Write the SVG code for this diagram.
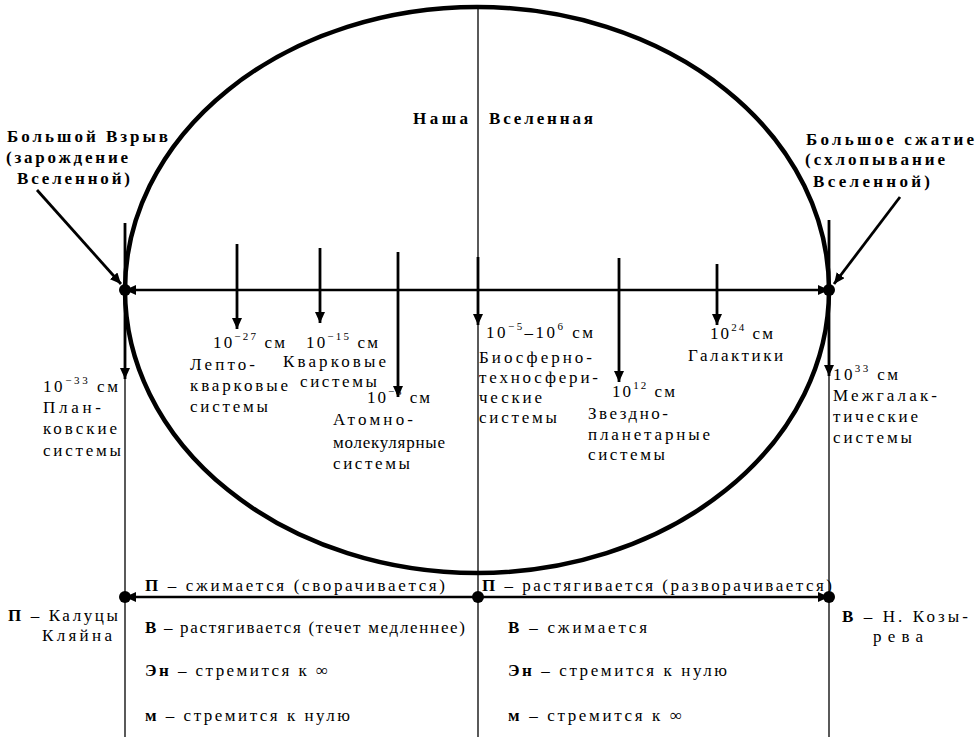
<svg xmlns="http://www.w3.org/2000/svg" width="976" height="737" viewBox="0 0 976 737" font-family="'Liberation Serif', 'Times New Roman', serif">
<style>
text{font-family:"Liberation Serif","Times New Roman",serif;fill:#000;}
.b{font-weight:bold;font-size:17px;}
.n{font-size:17px;}
.num{font-size:17px;}
.sup{font-size:11px;}
.thin{stroke:#000;stroke-width:1.3;fill:none;}
.thick{stroke:#000;stroke-width:2.8;fill:none;}
.ax{stroke:#000;stroke-width:2.5;fill:none;}
.dot{fill:#000;}
</style>
<defs>
<marker id="ah" markerUnits="userSpaceOnUse" markerWidth="11" markerHeight="10" refX="11" refY="5" orient="auto-start-reverse">
<path d="M0,0 L11,5 L0,10 z" fill="#000"/>
</marker>
</defs>
<rect width="976" height="737" fill="#fff"/>
<ellipse id="universe" cx="477" cy="290" rx="352" ry="283" fill="none" stroke="#000" stroke-width="4.5"/>
<g id="connectors">
<line class="thin" x1="478" y1="7" x2="478" y2="737"/>
<line class="thin" x1="125" y1="378" x2="125" y2="737"/>
<line class="thin" x1="829" y1="375" x2="829" y2="737"/>
<line class="thick" x1="125" y1="223" x2="125" y2="379" marker-end="url(#ah)"/>
<line class="thick" x1="829" y1="220" x2="829" y2="376" marker-end="url(#ah)"/>
<line class="ax" x1="125" y1="290" x2="829" y2="290" marker-start="url(#ah)" marker-end="url(#ah)"/>
<line class="thick" x1="237" y1="244" x2="237" y2="329" marker-end="url(#ah)"/>
<line class="thick" x1="320" y1="248" x2="320" y2="323" marker-end="url(#ah)"/>
<line class="thick" x1="398" y1="252" x2="398" y2="397" marker-end="url(#ah)"/>
<line class="thick" x1="478" y1="257" x2="478" y2="325" marker-end="url(#ah)"/>
<line class="thick" x1="619" y1="258" x2="619" y2="382" marker-end="url(#ah)"/>
<line class="thick" x1="717" y1="264" x2="717" y2="325" marker-end="url(#ah)"/>
<line class="thick" x1="37" y1="190" x2="121" y2="284" stroke-width="2" marker-end="url(#ah)"/>
<line class="thick" x1="900" y1="197" x2="834" y2="284" stroke-width="2" marker-end="url(#ah)"/>
<line class="ax" x1="478" y1="597" x2="125" y2="597" marker-end="url(#ah)"/>
<line class="ax" x1="478" y1="597" x2="829" y2="597" marker-end="url(#ah)"/>
<circle class="dot" cx="125" cy="290" r="6"/>
<circle class="dot" cx="829" cy="290" r="6"/>
<circle class="dot" cx="125" cy="597" r="6"/>
<circle class="dot" cx="478" cy="597" r="6"/>
<circle class="dot" cx="829" cy="597" r="6"/>
</g>
<g id="title">
<text class="b" x="413" y="124" textLength="55" lengthAdjust="spacing">Наша</text>
<text class="b" x="489" y="124" textLength="104" lengthAdjust="spacing">Вселенная</text>
</g>
<g id="big-bang">
<text class="b" x="7" y="142" textLength="161" lengthAdjust="spacing">Большой Взрыв</text>
<text class="b" x="6" y="163" textLength="122" lengthAdjust="spacing">(зарождение</text>
<text class="b" x="17" y="184" textLength="113" lengthAdjust="spacing">Вселенной)</text>
</g>
<g id="big-crunch">
<text class="b" x="806" y="145" textLength="168" lengthAdjust="spacing">Большое сжатие</text>
<text class="b" x="805" y="165" textLength="140" lengthAdjust="spacing">(схлопывание</text>
<text class="b" x="813" y="187" textLength="117" lengthAdjust="spacing">Вселенной)</text>
</g>
<g id="planck">
<text class="num" x="43" y="392" textLength="75" lengthAdjust="spacing">10<tspan class="sup" dy="-8">−33</tspan><tspan dy="8"> см</tspan></text>
<text class="n" x="43" y="413" textLength="58" lengthAdjust="spacing">План-</text>
<text class="n" x="43" y="434" textLength="74" lengthAdjust="spacing">ковские</text>
<text class="n" x="43" y="456" textLength="78" lengthAdjust="spacing">системы</text>
</g>
<g id="lepto">
<text class="num" x="213" y="348" textLength="72" lengthAdjust="spacing">10<tspan class="sup" dy="-8">−27</tspan><tspan dy="8"> см</tspan></text>
<text class="n" x="190" y="370" textLength="65" lengthAdjust="spacing">Лепто-</text>
<text class="n" x="190" y="391" textLength="98" lengthAdjust="spacing">кварковые</text>
<text class="n" x="190" y="412" textLength="78" lengthAdjust="spacing">системы</text>
</g>
<g id="quark">
<text class="num" x="306" y="348" textLength="72" lengthAdjust="spacing">10<tspan class="sup" dy="-8">−15</tspan><tspan dy="8"> см</tspan></text>
<text class="n" x="283" y="367" textLength="103" lengthAdjust="spacing">Кварковые</text>
<text class="n" x="300" y="387" textLength="77" lengthAdjust="spacing">системы</text>
</g>
<g id="atomic">
<text class="num" x="367" y="403" textLength="63" lengthAdjust="spacing">10<tspan class="sup" dy="-8">−8</tspan><tspan dy="8"> см</tspan></text>
<text class="n" x="333" y="425" textLength="80" lengthAdjust="spacing">Атомно-</text>
<text class="n" x="333" y="448" textLength="112" lengthAdjust="spacing">молекулярные</text>
<text class="n" x="333" y="469" textLength="77" lengthAdjust="spacing">системы</text>
</g>
<g id="biosphere">
<text class="num" x="486" y="338" textLength="107" lengthAdjust="spacing">10<tspan class="sup" dy="-8">−5</tspan><tspan dy="8">–10</tspan><tspan class="sup" dy="-8">6</tspan><tspan dy="8"> см</tspan></text>
<text class="n" x="479" y="363" textLength="113" lengthAdjust="spacing">Биосферно-</text>
<text class="n" x="479" y="383" textLength="119" lengthAdjust="spacing">техносфери-</text>
<text class="n" x="479" y="403" textLength="63" lengthAdjust="spacing">ческие</text>
<text class="n" x="479" y="423" textLength="78" lengthAdjust="spacing">системы</text>
</g>
<g id="stellar">
<text class="num" x="612" y="397" textLength="63" lengthAdjust="spacing">10<tspan class="sup" dy="-8">12</tspan><tspan dy="8"> см</tspan></text>
<text class="n" x="588" y="419" textLength="80" lengthAdjust="spacing">Звездно-</text>
<text class="n" x="588" y="440" textLength="122" lengthAdjust="spacing">планетарные</text>
<text class="n" x="588" y="460" textLength="77" lengthAdjust="spacing">системы</text>
</g>
<g id="galaxies">
<text class="num" x="710" y="339" textLength="63" lengthAdjust="spacing">10<tspan class="sup" dy="-8">24</tspan><tspan dy="8"> см</tspan></text>
<text class="n" x="688" y="361" textLength="95" lengthAdjust="spacing">Галактики</text>
</g>
<g id="intergalactic">
<text class="num" x="833" y="380" textLength="65" lengthAdjust="spacing">10<tspan class="sup" dy="-8">33</tspan><tspan dy="8"> см</tspan></text>
<text class="n" x="833" y="401" textLength="104" lengthAdjust="spacing">Межгалак-</text>
<text class="n" x="833" y="422" textLength="85" lengthAdjust="spacing">тические</text>
<text class="n" x="833" y="443" textLength="79" lengthAdjust="spacing">системы</text>
</g>
<g id="kaluza">
<text class="n" x="8" y="621" textLength="110" lengthAdjust="spacing"><tspan font-weight="bold">П</tspan> – Калуцы</text>
<text class="n" x="42" y="641" textLength="70" lengthAdjust="spacing">Кляйна</text>
</g>
<g id="left-props">
<text class="n" x="145" y="591" textLength="300" lengthAdjust="spacing"><tspan font-weight="bold">П</tspan> – сжимается (сворачивается)</text>
<text class="n" x="145" y="633" textLength="320" lengthAdjust="spacing"><tspan font-weight="bold">В</tspan> – растягивается (течет медленнее)</text>
<text class="n" x="145" y="676" textLength="183" lengthAdjust="spacing"><tspan font-weight="bold">Эн</tspan> – стремится к ∞</text>
<text class="n" x="145" y="721" textLength="205" lengthAdjust="spacing"><tspan font-weight="bold">м</tspan> – стремится к нулю</text>
</g>
<g id="right-props">
<text class="n" x="482" y="591" textLength="350" lengthAdjust="spacing"><tspan font-weight="bold">П</tspan> – растягивается (разворачивается)</text>
<text class="n" x="508" y="633" textLength="139" lengthAdjust="spacing"><tspan font-weight="bold">В</tspan> – сжимается</text>
<text class="n" x="508" y="676" textLength="219" lengthAdjust="spacing"><tspan font-weight="bold">Эн</tspan> – стремится к нулю</text>
<text class="n" x="508" y="721" textLength="174" lengthAdjust="spacing"><tspan font-weight="bold">м</tspan> – стремится к  ∞</text>
</g>
<g id="kozyrev">
<text class="n" x="842" y="622" textLength="126" lengthAdjust="spacing"><tspan font-weight="bold">В</tspan> – Н. Козы-</text>
<text class="n" x="873" y="642" textLength="50" lengthAdjust="spacing">рева</text>
</g>
</svg>
